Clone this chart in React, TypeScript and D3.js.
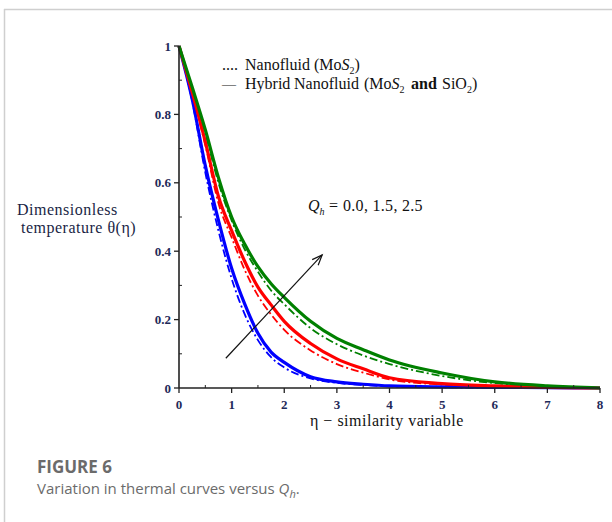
import React from "react";
import * as d3 from "d3";

const etaGrid = [0, 0.25, 0.5, 0.75, 1, 1.25, 1.5, 1.75, 2, 2.5, 3, 3.5, 4, 5, 6, 7, 8];

// Hybrid nanofluid (solid)
const hybridQ0 = [1, 0.845, 0.65, 0.49, 0.35, 0.245, 0.16, 0.105, 0.075, 0.033, 0.018, 0.011, 0.006, 0.003, 0.002, 0.001, 0];
const hybridQ15 = [1, 0.865, 0.72, 0.56, 0.46, 0.37, 0.295, 0.243, 0.195, 0.13, 0.085, 0.056, 0.03, 0.013, 0.006, 0.002, 0];
const hybridQ25 = [1, 0.88, 0.755, 0.615, 0.5, 0.42, 0.355, 0.305, 0.265, 0.195, 0.145, 0.112, 0.082, 0.044, 0.018, 0.006, 0];

// Nanofluid (dash-dot)
const nanoQ0 = [1, 0.84, 0.63, 0.46, 0.32, 0.215, 0.14, 0.09, 0.06, 0.028, 0.015, 0.009, 0.005, 0.002, 0.001, 0, 0];
const nanoQ15 = [1, 0.86, 0.71, 0.54, 0.44, 0.345, 0.27, 0.215, 0.17, 0.11, 0.07, 0.045, 0.025, 0.01, 0.004, 0.001, 0];
const nanoQ25 = [1, 0.875, 0.745, 0.6, 0.49, 0.405, 0.34, 0.285, 0.245, 0.175, 0.128, 0.095, 0.07, 0.035, 0.014, 0.004, 0];

const xTicks = [0, 1, 2, 3, 4, 5, 6, 7, 8];
const xMinor = [0.5, 1.5, 2.5, 3.5, 4.5, 5.5, 6.5, 7.5];
const yTicks = [0, 0.2, 0.4, 0.6, 0.8, 1];
const yTickLabels = ["0", "0.2", "0.4", "0.6", "0.8", "1"];
const yMinor = [0.1, 0.3, 0.5, 0.7, 0.9];

const arrowFrom = [0.89, 0.087];
const arrowTo = [2.72, 0.389];

const colors = ["#0000ff", "#ff0000", "#008000"];

export default function App() {
  const x = d3.scaleLinear().domain([0, 8]).range([179, 600]);
  const y = d3.scaleLinear().domain([0, 1]).range([388, 46]);
  const line = d3
    .line<number>()
    .x((_, i) => x(etaGrid[i]))
    .y((d) => y(d))
    .curve(d3.curveMonotoneX);

  const hybrid = [hybridQ0, hybridQ15, hybridQ25];
  const nano = [nanoQ0, nanoQ15, nanoQ25];
  const tickColor = "#1f2a5a";
  const serif = "'Liberation Serif', 'DejaVu Serif', serif";

  const ax1 = x(arrowFrom[0]), ay1 = y(arrowFrom[1]);
  const ax2 = x(arrowTo[0]), ay2 = y(arrowTo[1]);
  const ang = Math.atan2(ay2 - ay1, ax2 - ax1);
  const hl = 11, ha = 0.38;
  const h1 = [ax2 - hl * Math.cos(ang - ha), ay2 - hl * Math.sin(ang - ha)];
  const h2 = [ax2 - hl * Math.cos(ang + ha), ay2 - hl * Math.sin(ang + ha)];

  return (
    <svg
      width={612}
      height={522}
      style={{ position: "absolute", left: 0, top: 0, background: "#fff" }}
    >
      <rect x={0} y={0} width={612} height={522} fill="#fff" />
      {/* frame */}
      <line x1={4} y1={9.5} x2={612} y2={9.5} stroke="#cfcfcf" strokeWidth={1.5} />
      <line x1={4.5} y1={9} x2={4.5} y2={522} stroke="#cfcfcf" strokeWidth={1.5} />

      {/* curves */}
      {nano.map((d, i) => (
        <path
          key={"n" + i}
          d={line(d) || ""}
          fill="none"
          stroke={colors[i]}
          strokeWidth={1.8}
          strokeDasharray="8,3,2,3"
        />
      ))}
      {hybrid.map((d, i) => (
        <path key={"h" + i} d={line(d) || ""} fill="none" stroke={colors[i]} strokeWidth={3.2} />
      ))}

      {/* axes */}
      <line x1={x(0)} y1={y(0)} x2={x(8)} y2={y(0)} stroke="#222" strokeWidth={1.6} />
      <line x1={x(0)} y1={y(0)} x2={x(0)} y2={y(1)} stroke="#222" strokeWidth={1.6} />
      {xTicks.map((t) => (
        <g key={"xt" + t}>
          <line x1={x(t)} y1={y(0)} x2={x(t)} y2={y(0) + 5} stroke="#222" strokeWidth={1.3} />
          <text
            x={x(t)}
            y={y(0) + 21}
            textAnchor="middle"
            fontFamily={serif}
            fontSize={13}
            fontWeight="bold"
            fill={tickColor}
          >
            {t}
          </text>
        </g>
      ))}
      {xMinor.map((t) => (
        <line key={"xm" + t} x1={x(t)} y1={y(0)} x2={x(t)} y2={y(0) - 3} stroke="#222" strokeWidth={1} />
      ))}
      {yTicks.map((t, i) => (
        <g key={"yt" + t}>
          <line x1={x(0) - 5} y1={y(t)} x2={x(0)} y2={y(t)} stroke="#222" strokeWidth={1.3} />
          <text
            x={x(0) - 8}
            y={y(t) + 4.5}
            textAnchor="end"
            fontFamily={serif}
            fontSize={13}
            fontWeight="bold"
            fill={tickColor}
          >
            {yTickLabels[i]}
          </text>
        </g>
      ))}
      {yMinor.map((t) => (
        <line key={"ym" + t} x1={x(0)} y1={y(t)} x2={x(0) + 3} y2={y(t)} stroke="#222" strokeWidth={1} />
      ))}

      {/* arrow */}
      <line x1={ax1} y1={ay1} x2={ax2} y2={ay2} stroke="#111" strokeWidth={1.2} />
      <polyline
        points={`${h1[0]},${h1[1]} ${ax2},${ay2} ${h2[0]},${h2[1]}`}
        fill="none"
        stroke="#111"
        strokeWidth={1.2}
      />

      {/* Qh annotation */}
      <text x={308} y={211} fontFamily={serif} fontSize={16} fill="#111">
        <tspan fontStyle="italic">Q</tspan>
        <tspan fontStyle="italic" fontSize={10} dy={4}>h</tspan>
        <tspan dy={-4} x={329}>=</tspan>
        <tspan x={343} letterSpacing={0.3}>0.0, 1.5, 2.5</tspan>
      </text>

      {/* legend */}
      <text y={70} fontFamily={serif} fontSize={16} fill="#111">
        <tspan x={222}>....</tspan>
        <tspan x={245}>Nanofluid</tspan>
        <tspan x={314}>(Mo</tspan>
        <tspan fontStyle="italic">S</tspan>
        <tspan fontSize={10} dy={4}>2</tspan>
        <tspan dy={-4}>)</tspan>
      </text>
      <text y={89} fontFamily={serif} fontSize={16} fill="#111">
        <tspan x={222} fontSize={14}>—</tspan>
        <tspan x={245}>Hybrid</tspan>
        <tspan x={294}>Nanofluid</tspan>
        <tspan x={364}>(Mo</tspan>
        <tspan fontStyle="italic">S</tspan>
        <tspan fontSize={10} dy={4}>2</tspan>
        <tspan dy={-4} x={411} fontWeight="bold">and</tspan>
        <tspan x={442}>SiO</tspan>
        <tspan fontSize={10} dy={4}>2</tspan>
        <tspan dy={-4}>)</tspan>
      </text>

      {/* y label */}
      <text x={17} y={215} fontFamily={serif} fontSize={16} letterSpacing={0.5} fill="#1a1f45">
        Dimensionless
      </text>
      <text x={21} y={233} fontFamily={serif} fontSize={16} letterSpacing={0.5} fill="#1a1f45">
        temperature θ(η)
      </text>

      {/* x label */}
      <text x={310} y={426} fontFamily={serif} fontSize={16} letterSpacing={0.5} fill="#111">
        η − similarity variable
      </text>

      {/* caption */}
      <text x={37} y={473} fontFamily="'Open Sans', sans-serif" fontSize={17} fontWeight="bold" fill="#6b6b6b">
        FIGURE 6
      </text>
      <text x={37} y={494} fontFamily="'Open Sans', sans-serif" fontSize={15} fill="#6b6b6b">
        <tspan>Variation in thermal curves versus </tspan>
        <tspan fontStyle="italic">Q</tspan>
        <tspan fontStyle="italic" fontSize={11} dy={4}>h</tspan>
        <tspan dy={-4}>.</tspan>
      </text>
    </svg>
  );
}
